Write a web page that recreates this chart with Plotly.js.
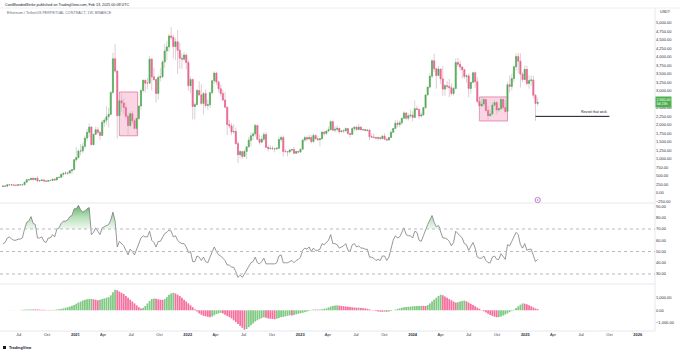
<!DOCTYPE html>
<html><head><meta charset="utf-8">
<script src="https://cdn.plot.ly/plotly-3.0.1.min.js"></script>
<style>html,body{margin:0;padding:0;background:#fff;}#chart{width:680px;height:353px;}</style>
</head><body><div id="chart"></div>
<script>
// ---- data (weekly, first week starts 2020-05-11) ----
const firstWeek = '2020-05-11';
const open = [187,206,201,240,244,234,228,226,242,238,239,318,387,394,433,391,433,353,365,385,355,341,366,368,406,383,454,461,549,575,588,584,653,685,
975,1041,1232,1233,1370,1612,1781,1935,1418,1723,1855,1780,1690,2078,2138,2240,2310,2950,3940,3580,2270,2710,2640,2510,2250,1980,2325,2120,1895,2190,2555,3010,3310,3225,3225,3930,3410,3330,2925,3390,3415,3850,4170,4290,4610,4570,4300,4440,4190,3960,3930,4050,
3830,3150,3330,2540,2600,3010,2880,2630,2920,2570,2590,2945,3295,3520,3260,3060,2920,2730,2520,2010,1970,1790,1805,1450,1125,1215,1075,1217,1355,1550,1680,1735,1985,1575,1490,1580,1715,1340,1310,1311,1296,1298,1314,1570,1630,1220,1215,1205,1260,1275,1165,1220,
1200,1287,1553,1627,1585,1630,1510,1690,1590,1565,1590,1790,1750,1820,1860,2095,1845,1870,1900,1800,1820,1830,1890,1750,1720,1890,1935,1865,1935,1855,1865,1835,1850,1655,1640,1630,1610,1625,1595,1670,1580,1555,1630,1780,1895,2050,2010,2060,2195,2350,2195,2265,
2290,2220,2475,2455,2260,2290,2505,2880,3110,3430,3880,3650,3450,3640,3350,3050,3150,3130,3090,2920,3070,3830,3780,3700,3620,3420,3440,3070,3250,3530,3270,2690,2555,2610,2745,2425,2270,2320,2580,2655,2440,2470,2750,2510,2395,3180,3130,3360,3705,4005,3870,3490,3330,
3630,3215,3300,3320,2870,2630];
const high = [215,216,246,252,249,246,248,246,251,245,322,415,415,445,446,439,488,380,395,389,365,376,394,417,419,470,475,560,622,635,605,675,700,1000,
1350,1280,1440,1475,1690,1875,2042,1970,1740,1945,1930,1830,2145,2200,2550,2500,2990,4120,4380,3600,2900,2915,2780,2650,2350,2400,2410,2190,2190,2560,3060,3330,3330,3375,4030,3970,3680,3340,3470,3670,3900,4380,4460,4670,4870,4640,4550,4780,4420,4100,4130,4100,
3900,3420,3360,2670,3060,3280,3190,2970,3050,2750,2970,3300,3580,3560,3300,3190,3030,2960,2530,2150,2060,2020,1920,1530,1260,1230,1280,1380,1650,1785,1800,2030,1990,1720,1670,1790,1785,1400,1400,1380,1340,1350,1660,1680,1680,1290,1230,1300,1300,1350,1230,1240,
1300,1590,1680,1660,1715,1700,1745,1720,1660,1600,1800,1830,1830,1945,2140,2130,1965,1990,1910,1850,1870,1930,1895,1760,1930,1950,1970,2030,1950,1890,1870,1870,1860,1740,1750,1650,1660,1650,1700,1750,1600,1650,1860,1910,2140,2130,2130,2200,2400,2370,2340,2450,
2400,2720,2560,2470,2390,2530,2890,3130,3520,3940,4090,3670,3730,3650,3730,3200,3290,3350,3220,3120,3950,3970,3890,3720,3650,3480,3520,3250,3560,3560,3400,2740,2800,2820,2760,2560,2460,2670,2730,2700,2520,2770,2770,2720,3250,3450,3500,3740,4090,4110,4100,3540,3740,
3740,3450,3450,3440,2900,2800];
const low = [177,196,198,227,218,222,220,222,236,229,235,301,356,365,374,375,316,332,361,308,334,336,360,362,368,373,440,445,480,545,531,583,549,683,
920,1000,1110,1170,1300,1540,1640,1400,1410,1700,1730,1550,1680,1935,2000,1930,2290,2920,3530,1600,1750,2380,2320,2180,1700,1930,2040,1870,1720,2150,2450,2950,2950,3050,3190,3010,3300,2650,2740,3280,3370,3670,3900,4150,4500,3950,3900,3500,3650,3640,3880,3630,
3000,2930,2160,2160,2560,2860,2580,2300,2500,2440,2500,2890,3210,3170,2950,2840,2700,2490,1700,1900,1700,1740,1420,880,1030,1000,1050,1000,1340,1375,1550,1650,1550,1420,1470,1520,1330,1220,1270,1280,1190,1255,1300,1500,1070,1180,1075,1165,1220,1150,1150,1180,
1190,1280,1510,1520,1560,1460,1460,1580,1535,1370,1580,1680,1700,1785,1850,1810,1780,1800,1740,1780,1760,1780,1700,1625,1715,1820,1830,1840,1850,1820,1810,1800,1550,1630,1610,1600,1530,1570,1580,1570,1520,1540,1620,1760,1880,1930,1930,2000,2190,2150,2130,2210,
2100,2210,2440,2170,2220,2270,2470,2870,3080,3370,3560,3060,3420,3210,2850,2860,3060,2810,2860,2860,3050,3700,3600,3360,3350,3240,2810,2920,3230,3090,2630,2110,2520,2530,2390,2150,2250,2280,2560,2310,2380,2460,2440,2360,2360,2950,3010,3250,3580,3520,3100,3260,3310,
3160,3060,3140,2780,2120,2550];
const close = [206,201,240,244,234,228,226,242,238,239,318,387,394,433,391,433,353,365,385,355,341,366,368,406,383,454,461,549,575,588,584,653,685,975,
1041,1232,1233,1370,1612,1781,1935,1418,1723,1855,1780,1690,2078,2138,2240,2310,2950,3940,3580,2270,2710,2640,2510,2250,1980,2325,2120,1895,2190,2555,3010,3310,3225,3225,3930,3410,3330,2925,3390,3415,3850,4170,4290,4610,4570,4300,4440,4190,3960,3930,4050,3830,
3150,3330,2540,2600,3010,2880,2630,2920,2570,2590,2945,3295,3520,3260,3060,2920,2730,2520,2010,1970,1790,1805,1450,1125,1215,1075,1217,1355,1550,1680,1735,1985,1575,1490,1580,1715,1340,1310,1311,1296,1298,1314,1570,1630,1220,1215,1205,1260,1275,1165,1220,1200,
1287,1553,1627,1585,1630,1510,1690,1590,1565,1590,1790,1750,1820,1860,2095,1845,1870,1900,1800,1820,1830,1890,1750,1720,1890,1935,1865,1935,1855,1865,1835,1850,1655,1640,1630,1610,1625,1595,1670,1580,1555,1630,1780,1895,2050,2010,2060,2195,2350,2195,2265,2290,
2220,2475,2455,2260,2290,2505,2880,3110,3430,3880,3650,3450,3640,3350,3050,3150,3130,3090,2920,3070,3830,3780,3700,3620,3420,3440,3070,3250,3530,3270,2690,2555,2610,2745,2425,2270,2320,2580,2655,2440,2470,2750,2510,2395,3180,3130,3360,3705,4005,3870,3490,3330,3630,
3215,3300,3320,2870,2630,2660];
const rsi = [57,58,62,63,61,60,60,61,61,62,70,76,77,81,75,74,62,62,63,59,58,62,62,65,63,70,71,75,77,77,78,81,82,88,
88,91,87,85,86,88,89,65,67,71,68,65,71,72,73,74,78,85,77,54,59,57,55,51,47,52,50,47,52,57,62,64,63,63,68,60,58,54,59,59,63,66,67,69,68,63,64,60,58,57,57,54,
49,50,41,41,46,45,42,45,41,40,45,50,54,50,47,46,44,42,38,38,36,36,32,27,29,27,30,33,37,40,41,45,40,39,41,44,39,39,39,39,39,40,46,47,40,40,40,41,42,40,42,43,
45,51,53,52,54,50,53,51,51,52,57,56,58,60,65,57,57,56,53,54,55,57,51,50,56,57,54,55,53,53,52,52,45,45,44,42,43,42,46,46,42,45,54,60,64,62,63,67,71,65,64,64,
62,68,67,60,59,64,70,74,78,82,76,72,73,67,62,62,61,59,55,58,68,66,64,62,57,56,51,54,58,53,45,44,44,46,42,40,40,45,46,43,43,48,45,43,56,55,59,63,67,65,56,53,57,
51,52,52,46,41,43];
const hist = [2,4,6,8,8,7,6,6,7,40,50,60,65,70,72,70,60,50,40,35,30,28,27,30,40,60,80,110,150,200,250,300,360,430,
530,620,700,780,840,880,900,905,880,840,800,850,900,950,1000,1050,1200,1450,1650,1600,1500,1400,1300,1150,1000,850,700,550,400,250,150,200,350,550,750,900,950,920,880,850,830,900,1050,1250,1350,1400,1350,1250,1150,1000,850,700,
550,400,250,80,-100,-250,-350,-450,-480,-520,-560,-500,-400,-300,-250,-200,-250,-350,-450,-550,-650,-800,-950,-1100,-1250,-1400,-1550,-1500,-1350,-1200,-1050,-900,-800,-700,-620,-560,-600,-650,-680,-700,-720,-680,-620,-560,-520,-480,-440,-400,-410,-370,-320,-280,
-240,-200,-150,-100,-50,20,60,55,50,70,90,120,160,230,300,350,380,390,370,350,330,300,280,260,240,220,210,215,190,170,150,120,80,30,-20,-60,-90,-110,-120,-110,-120,-100,-60,-10,50,110,160,200,240,260,280,300,
320,330,340,350,360,355,345,420,550,700,850,1000,1150,1250,1200,1100,1000,900,800,700,620,640,700,750,780,720,620,520,420,320,220,120,20,-80,-180,-280,-380,-450,-520,-560,-540,-500,-420,-340,-250,-150,-50,50,180,320,450,550,530,
480,400,320,230,150,90];
const timeTicks = ['2020-07-01','2020-10-01','2021-01-01','2021-04-01','2021-07-01','2021-10-01','2022-01-01','2022-04-01','2022-07-01','2022-10-01','2023-01-01','2023-04-01','2023-07-01','2023-10-01','2024-01-01','2024-04-01','2024-07-01','2024-10-01','2025-01-01','2025-04-01','2025-07-01','2025-10-01','2026-01-01'];
const timeTickText = ['Jul','Oct','<b>2021</b>','Apr','Jul','Oct','<b>2022</b>','Apr','Jul','Oct','<b>2023</b>','Apr','Jul','Oct','<b>2024</b>','Apr','Jul','Oct','<b>2025</b>','Apr','Jul','Oct','<b>2026</b>'];
const priceTicks = [-250,0,250,500,750,1000,1250,1500,1750,2000,2250,2500,3000,3250,3500,3750,4000,4250,4500,4750,5000];
const rsiTicks = [30,40,50,60,70,80,90];
const rsiLevels = [70,50,30];
const histTicks = [-1000,0,1000];
const boxStart = ['2021-05-24','2024-08-05'];
const boxEnd = ['2021-07-22','2024-11-04'];
const boxLow = [1680,2115];
const boxHigh = [2965,2820];
const wickLevel = 2250;
const wickLineStart = '2025-02-03';
const wickLineEnd = '2025-10-01';

// ---- build ----
const t0 = Date.parse(firstWeek + 'T00:00:00Z');
const dates = close.map((_, i) => new Date(t0 + i * 7 * 864e5).toISOString().slice(0, 10));
const bodyHi = open.map((o, i) => Math.max(o, close[i]));
const bodyLo = open.map((o, i) => Math.min(o, close[i]));
const GREEN = '#4caf50', PINK = '#f06292';
const HG = '#80c883', HP = '#f5709e';
const histColors = hist.map((v, i) => (i === 0 || v >= hist[i - 1]) ? HG : HP);

const H = 353, TOP = 8, BOT = 331;
const py = p => (BOT - p) / (BOT - TOP);
const fmt = v => (v < 0 ? '\u2212' : '') + Math.abs(v).toLocaleString('en-US', {minimumFractionDigits: 2, maximumFractionDigits: 2});
const FONT = 'Liberation Sans, Arial, sans-serif';
const TXT = '#2a2e39';
const RSI_LINE = {color: '#7e7e7e', width: 0.8};

const traces = [
  {type: 'candlestick', x: dates, open: open, high: high, low: low, close: close, xaxis: 'x', yaxis: 'y',
   increasing: {line: {color: '#c4c4c4', width: 0.7}, fillcolor: '#c4c4c4'},
   decreasing: {line: {color: '#d9b3c2', width: 0.7}, fillcolor: '#d9b3c2'}, hoverinfo: 'skip', showlegend: false},
  {type: 'candlestick', x: dates, open: open, high: bodyHi, low: bodyLo, close: close, xaxis: 'x', yaxis: 'y',
   increasing: {line: {color: GREEN, width: 0.5}, fillcolor: GREEN},
   decreasing: {line: {color: PINK, width: 0.5}, fillcolor: PINK}, hoverinfo: 'skip', showlegend: false},
  {type: 'scatter', mode: 'lines', x: dates, y: rsi, xaxis: 'x', yaxis: 'y2',
   line: RSI_LINE, hoverinfo: 'skip', showlegend: false},
  {type: 'scatter', mode: 'lines', x: dates, y: rsi, xaxis: 'x', yaxis: 'y4', fill: 'tozeroy',
   line: {width: 0, color: 'rgba(0,0,0,0)'}, fillcolor: 'rgba(76,175,80,0.35)',
   fillgradient: {type: 'vertical', start: 70, stop: 90, colorscale: [[0, 'rgba(76,175,80,0.08)'], [0.5, 'rgba(76,175,80,0.38)'], [1, 'rgba(56,160,60,0.75)']]},
   hoverinfo: 'skip', showlegend: false},
  {type: 'scatter', mode: 'lines', x: dates, y: rsi, xaxis: 'x', yaxis: 'y4',
   line: RSI_LINE, hoverinfo: 'skip', showlegend: false},
  {type: 'bar', x: dates, y: hist, xaxis: 'x', yaxis: 'y3', marker: {color: histColors, line: {width: 0}},
   hoverinfo: 'skip', showlegend: false}
];

const shapes = [];
const line = (x0, y0, x1, y1, color) => ({type: 'line', xref: 'paper', yref: 'paper', x0, y0, x1, y1, line: {color, width: 1}});
// pane separators and frame
shapes.push(line(0, py(203), 1, py(203), '#e6e8ee'));
shapes.push(line(0, py(284), 1, py(284), '#e6e8ee'));
shapes.push(line(0, 0, 1, 0, '#e6e8ee'));
shapes.push(line(1, 0, 1, 1, '#e6e8ee'));
shapes.push(line(0, py(8), 680/655, py(8), '#eceef2'));
// RSI levels
rsiLevels.forEach(l => shapes.push({type: 'line', xref: 'paper', yref: 'y2', x0: 0, x1: 1, y0: l, y1: l, line: {color: '#b8bac0', width: 1, dash: 'dot'}}));
// range boxes
boxStart.forEach((s, i) => shapes.push({type: 'rect', xref: 'x', yref: 'y', x0: s, x1: boxEnd[i], y0: boxLow[i], y1: boxHigh[i],
  fillcolor: 'rgba(240,128,170,0.32)', line: {color: '#e2789f', width: 0.8}, layer: 'below'}));
// wick line
shapes.push({type: 'line', xref: 'x', yref: 'y', x0: wickLineStart, x1: wickLineEnd, y0: wickLevel, y1: wickLevel, line: {color: '#131722', width: 1}});
// event marker
shapes.push({type: 'circle', xref: 'x', yref: 'paper', xsizemode: 'pixel', ysizemode: 'pixel', xanchor: dates[dates.length - 1], yanchor: py(200),
  x0: -2.6, x1: 2.6, y0: -2.6, y1: 2.6, line: {color: '#b15fc4', width: 0.8}, fillcolor: '#fff'});
shapes.push({type: 'circle', xref: 'x', yref: 'paper', xsizemode: 'pixel', ysizemode: 'pixel', xanchor: dates[dates.length - 1], yanchor: py(200),
  x0: -0.8, x1: 0.8, y0: -0.8, y1: 0.8, line: {width: 0}, fillcolor: '#b15fc4'});
// logo mark
shapes.push({type: 'rect', xref: 'paper', yref: 'paper', x0: 3/655, x1: 6/655, y0: py(349), y1: py(346), fillcolor: '#131722', line: {width: 0}});

const last = close[close.length - 1];
const annotations = [
  {xref: 'paper', yref: 'paper', x: 3/655, y: py(4.5), xanchor: 'left', yanchor: 'middle', showarrow: false,
   text: 'CoinBloodedStrike published on TradingView.com, Feb 13, 2025 00:09 UTC', font: {size: 3.7, color: '#131722', family: FONT}},
  {xref: 'paper', yref: 'paper', x: 5/655, y: py(12.5), xanchor: 'left', yanchor: 'middle', showarrow: false,
   text: 'Ethereum / TetherUS PERPETUAL CONTRACT, 1W, BINANCE', font: {size: 3.7, color: '#6a6d78', family: FONT}},
  {xref: 'paper', yref: 'paper', x: 658/655, y: py(12), xanchor: 'left', yanchor: 'middle', showarrow: false,
   text: 'USDT', font: {size: 3.7, color: TXT, family: FONT}},
  {xref: 'paper', yref: 'y', x: 1, y: last, xanchor: 'left', yanchor: 'middle', showarrow: false,
   text: fmt(last) + '<br>3d 23h', bgcolor: '#4caf50', borderpad: 0.6, align: 'left',
   font: {size: 3.6, color: '#ffffff', family: FONT}},
  {xref: 'x', yref: 'y', x: wickLineEnd, y: wickLevel, xanchor: 'right', yanchor: 'bottom', showarrow: false, yshift: 0.5,
   text: 'Revisit that wick', font: {size: 3.6, color: '#131722', family: FONT}},
  {xref: 'paper', yref: 'paper', x: 7/655, y: py(347.5), xanchor: 'left', yanchor: 'middle', showarrow: false,
   text: '<b>TradingView</b>', font: {size: 3.8, color: '#131722', family: FONT}}
];

const yBase = {side: 'right', anchor: 'x', showgrid: false, zeroline: false, ticks: '', showline: false, fixedrange: true,
  tickfont: {size: 4, color: TXT, family: FONT}, tickmode: 'array'};

const layout = {
  width: 680, height: H, margin: {l: 0, r: 25, t: TOP, b: H - BOT, pad: 0},
  paper_bgcolor: '#ffffff', plot_bgcolor: '#ffffff', showlegend: false, hovermode: false, dragmode: false,
  bargap: 0.18,
  xaxis: {type: 'date', range: ['2020-05-01 07:00', '2026-02-26'], anchor: 'y3', showgrid: false, zeroline: false,
    ticks: '', showline: false, rangeslider: {visible: false}, tickmode: 'array', tickvals: timeTicks, ticktext: timeTickText,
    tickfont: {size: 4, color: TXT, family: FONT}, fixedrange: true},
  yaxis: Object.assign({}, yBase, {domain: [py(203), 1], range: [-294, 5432], tickvals: priceTicks, ticktext: priceTicks.map(fmt)}),
  yaxis2: Object.assign({}, yBase, {domain: [py(284), py(203)], range: [21.1, 93.1], tickvals: rsiTicks, ticktext: rsiTicks.map(fmt)}),
  yaxis3: Object.assign({}, yBase, {domain: [0, py(284)], range: [-1656, 2104], tickvals: histTicks, ticktext: histTicks.map(fmt)}),
  yaxis4: {domain: [py(229), py(203)], range: [70, 93.1], anchor: 'x', visible: false, showgrid: false, zeroline: false, fixedrange: true},
  shapes: shapes, annotations: annotations
};

Plotly.newPlot('chart', traces, layout, {displayModeBar: false, staticPlot: true});
</script>
</body></html>
